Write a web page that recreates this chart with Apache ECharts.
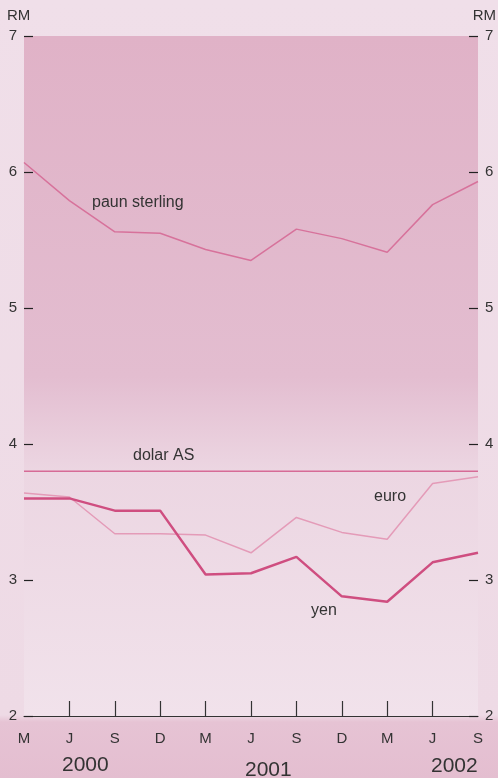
<!DOCTYPE html>
<html><head><meta charset="utf-8">
<script src="https://cdn.jsdelivr.net/npm/echarts@6/dist/echarts.min.js"></script>
<style>
html,body{margin:0;padding:0;}
body{width:498px;height:778px;background:linear-gradient(to bottom,#f0dfe9 0px,#eedae5 715px,#e6c3d4 722px,#e4bed0 778px);}
#c{width:498px;height:778px;}
</style></head>
<body><div id="c"></div>
<script>
var categories = ['M','J','S','D','M','J','S','D','M','J','S'];
var yTicks = [2,3,4,5,6,7];
var paunSterling = [6.07,5.79,5.56,5.55,5.43,5.35,5.58,5.51,5.41,5.76,5.93];
var dolarAS = [3.80,3.80,3.80,3.80,3.80,3.80,3.80,3.80,3.80,3.80,3.80];
var euro = [3.64,3.61,3.34,3.34,3.33,3.20,3.46,3.35,3.30,3.71,3.76];
var yen = [3.60,3.60,3.51,3.51,3.04,3.05,3.17,2.88,2.84,3.13,3.20];
var years = ['2000','2001','2002'];

var chart = echarts.init(document.getElementById('c'));
var txt = '#333';
var font = 'Liberation Sans, Arial, sans-serif';
function yAxis(pos){
  return {
    type:'value', position:pos, min:2, max:7, interval:1,
    axisLine:{show:false},
    axisTick:{show:true, inside:true, length:9, lineStyle:{color:'#222', width:1.2}},
    splitLine:{show:false},
    axisLabel:{color:txt, fontSize:15, fontFamily:font, margin:7}
  };
}
chart.setOption({
  animation:false,
  grid:{left:24, right:20, top:36, bottom:62, show:true, borderWidth:0,
    backgroundColor:{type:'linear',x:0,y:0,x2:0,y2:1,colorStops:[
      {offset:0,color:'#e0b2c7'},{offset:0.5,color:'#e3bdd0'},
      {offset:0.64,color:'#ecd6e2'},{offset:1,color:'#f1e2eb'}]}},
  xAxis:{type:'category', data:categories, boundaryGap:false,
    axisLine:{lineStyle:{color:'#333', width:1.2}},
    axisTick:{show:true, inside:true, length:15, lineStyle:{color:'#333', width:1.2},
      interval:function(i){return i>0 && i<categories.length-1;}},
    axisLabel:{color:txt, fontSize:15, fontFamily:font, margin:15}
  },
  yAxis:[yAxis('left'), yAxis('right')],
  series:[
    {name:'paun sterling', type:'line', data:paunSterling, symbol:'none', lineStyle:{color:'#d7729b', width:1.5}},
    {name:'dolar AS', type:'line', data:dolarAS, symbol:'none', lineStyle:{color:'#d66b96', width:1.5}},
    {name:'euro', type:'line', data:euro, symbol:'none', lineStyle:{color:'#e49bb8', width:1.5}},
    {name:'yen', type:'line', data:yen, symbol:'none', lineStyle:{color:'#cf4e80', width:2.5}}
  ],
  graphic:[
    {type:'text', left:7, top:8, style:{text:'RM', fill:txt, font:'15px '+font}},
    {type:'text', right:2, top:8, style:{text:'RM', fill:txt, font:'15px '+font}},
    {type:'text', left:92, top:195, style:{text:'paun sterling', fill:txt, font:'16px '+font}},
    {type:'text', left:133, top:448, style:{text:'dolar AS', fill:txt, font:'16px '+font}},
    {type:'text', left:374, top:489, style:{text:'euro', fill:txt, font:'16px '+font}},
    {type:'text', left:311, top:603, style:{text:'yen', fill:txt, font:'16px '+font}},
    {type:'text', left:62, top:755, style:{text:years[0], fill:txt, font:'21px '+font}},
    {type:'text', left:245, top:760, style:{text:years[1], fill:txt, font:'21px '+font}},
    {type:'text', left:431, top:756, style:{text:years[2], fill:txt, font:'21px '+font}}
  ]
});
</script></body></html>
